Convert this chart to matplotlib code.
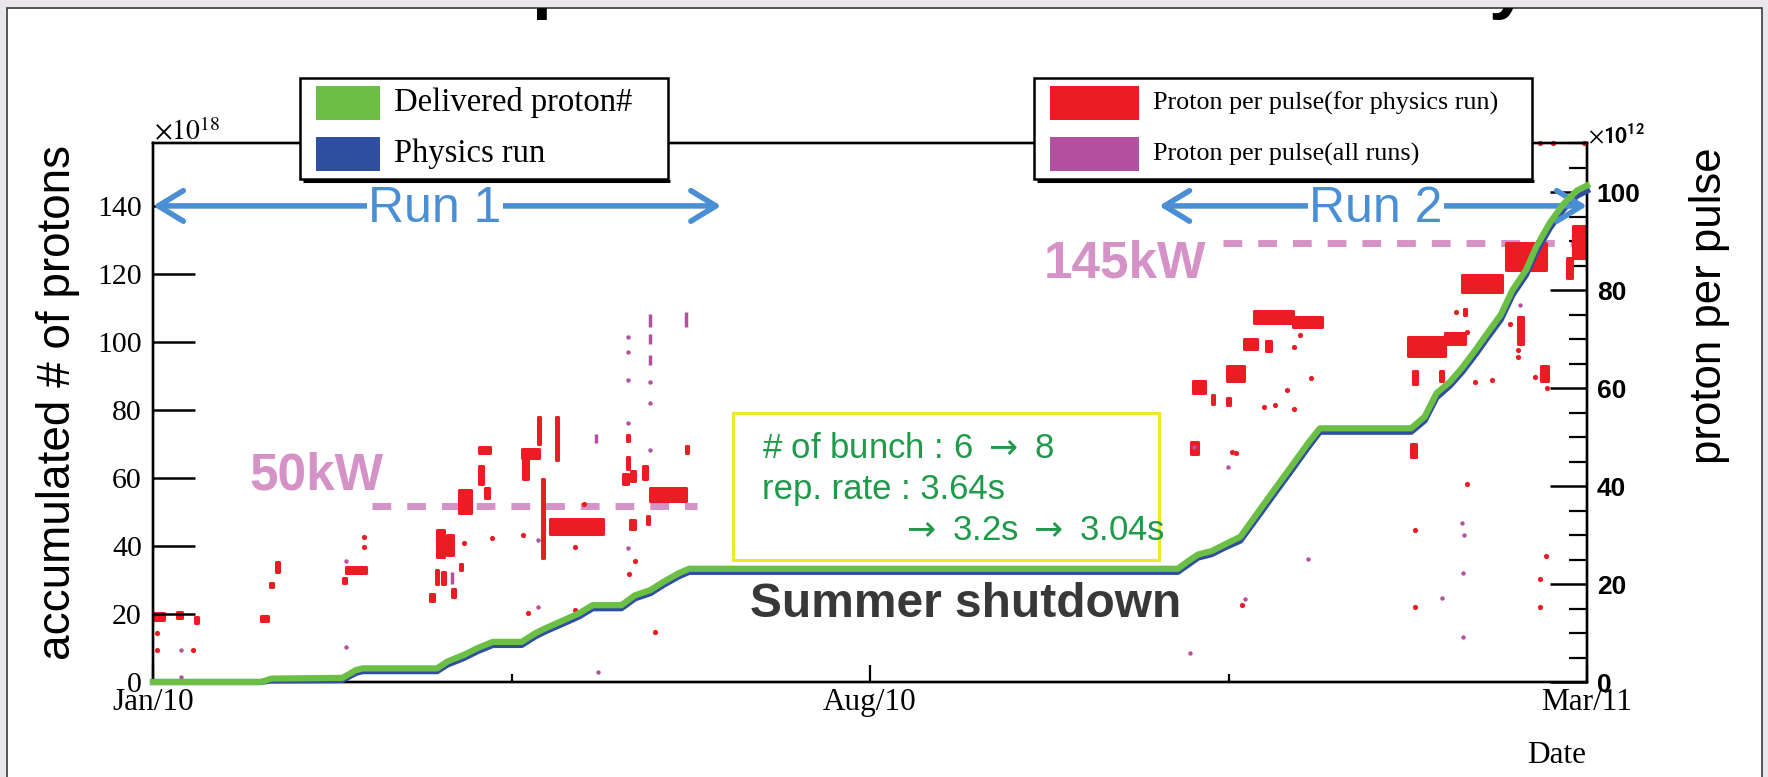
import matplotlib
matplotlib.use('Agg')
import matplotlib.pyplot as plt
from matplotlib.patches import Rectangle

plt.rcParams['font.family'] = ['Liberation Sans', 'DejaVu Sans']

# ---------------- data ----------------
# x = days since 2010-01-01 (Mar/11 = day 424)
date_ticks = [0, 212, 424]
date_labels = ['Jan/10', 'Aug/10', 'Mar/11']
date_minor = [106, 318]

# accumulated protons (x1e18)
deliv_day = [0, 32, 35, 56, 60, 62, 84, 87, 92, 96, 100.5, 109, 113, 116, 121.5, 126, 130,
             138.5, 142.5, 147, 151, 155.5, 158.5, 303, 306, 309, 313, 317, 321.5, 326.5,
             331.5, 336.5, 341.5, 345, 372, 376, 379.5, 383.5, 387, 391, 394.5, 398.5, 402,
             406, 409, 413, 417, 421, 424]
deliv_pot = [0, 0, 1.0, 1.2, 3.5, 4.0, 4.0, 6.0, 8.0, 10.0, 11.8, 11.8, 14.3, 15.8, 18.2, 20.2,
             22.6, 22.6, 25.5, 27.0, 29.5, 32.0, 33.3, 33.3, 35.5, 37.5, 38.5, 40.5, 42.7, 49.6,
             56.5, 63.3, 70.2, 74.6, 74.6, 78.0, 84.9, 88.3, 92.3, 97.6, 102.5, 108.0, 115.3,
             121.2, 128.0, 135.0, 140.5, 144.5, 146.0]
phys_pot = [0, 0, 0.5, 0.6, 2.7, 3.2, 3.2, 5.1, 7.1, 9.1, 10.9, 10.9, 13.4, 14.9, 17.3, 19.3,
            21.7, 21.7, 24.6, 26.1, 28.6, 31.1, 32.4, 32.4, 34.5, 36.6, 37.6, 39.6, 41.6, 48.4,
            55.3, 62.1, 69.0, 73.6, 73.6, 76.9, 83.7, 87.2, 91.1, 96.3, 101.2, 106.6, 113.9,
            119.8, 126.5, 133.5, 139.0, 143.0, 144.5]

# proton per pulse (x1e12), physics runs: dense groups of pulses (day range, ppp range)
red_d0 = [0.0, 7.0, 12.3, 32.0, 34.5, 36.5, 56.2, 57.0, 82.0, 84.0, 86.8, 83.6, 85.5, 88.3,
          90.8, 90.5, 96.5, 96.5, 98.3, 109.0, 109.5, 113.9, 115.0, 119.2, 117.3, 139.0, 140.2,
          140.1, 141.4, 141.0, 145.0, 146.0, 146.9, 157.7,
          307.0, 307.5, 313.2, 317.5, 317.5, 322.5, 329.0, 325.5, 337.0, 371.0, 382.0, 372.7,
          372.0, 380.5, 387.0, 387.5, 400.0, 403.5, 410.5, 418.0, 420.0]
red_d1 = [3.3, 8.5, 13.3, 34.0, 35.5, 37.3, 57.2, 63.0, 83.0, 86.0, 88.8, 84.3, 86.3, 89.3,
          91.4, 94.0, 99.5, 97.5, 99.3, 114.0, 110.8, 114.4, 115.7, 119.8, 133.0, 140.5, 140.7,
          140.6, 142.5, 142.4, 146.0, 146.8, 157.5, 158.3,
          309.0, 311.0, 313.7, 318.5, 322.5, 326.5, 330.5, 337.0, 345.5, 382.0, 388.0, 373.7,
          373.5, 381.3, 399.0, 388.2, 412.0, 405.0, 412.5, 419.5, 424.0]
red_p0 = [12.6, 13.0, 12.0, 12.5, 19.3, 22.5, 20.3, 22.3, 16.5, 25.5, 26.0, 20.0, 20.0, 17.3,
          22.8, 34.5, 46.8, 40.5, 37.5, 45.8, 41.5, 48.5, 25.3, 45.3, 30.2, 40.5, 43.5,
          49.2, 41.0, 31.3, 41.5, 32.3, 37.0, 46.8,
          46.5, 59.0, 56.8, 56.5, 61.5, 68.0, 67.5, 73.2, 72.5, 66.5, 69.0, 60.8,
          46.0, 61.5, 79.5, 74.8, 84.0, 69.0, 61.5, 82.5, 86.5]
red_p1 = [14.0, 14.2, 13.3, 13.5, 20.3, 24.5, 21.3, 23.4, 18.0, 31.0, 30.0, 22.8, 22.5, 19.0,
          24.0, 39.2, 48.0, 44.0, 39.5, 47.6, 45.5, 54.0, 41.5, 54.0, 33.2, 42.5, 46.0,
          50.5, 43.0, 33.0, 44.0, 33.8, 39.5, 48.2,
          49.0, 61.5, 58.5, 58.0, 64.5, 70.0, 69.5, 75.8, 74.5, 70.5, 71.2, 63.5,
          48.5, 63.5, 83.0, 76.2, 89.5, 74.5, 64.5, 86.5, 93.0]

# single pulses, physics runs
red_day = [1.2, 1.2, 11.8, 62.3, 62.3, 109.5, 111.0, 124.8, 124.8, 127.4, 148.5, 140.6, 142.5,
           100.3, 92.0, 328.5, 331.7, 335.4, 337.3, 337.3, 339.2, 342.4, 373.2, 388.4, 395.9,
           390.9, 388.4, 385.2, 408.5, 412.3, 403.5, 403.5, 322.0, 373.0, 412.0, 410.0, 410.0,
           319.0, 320.3, 401.3, 410.0, 414.0, 423.0]
red_ppp = [9.9, 6.5, 6.5, 29.6, 27.6, 30.0, 14.0, 27.6, 14.7, 36.4, 10.3, 22.0, 24.6,
           29.3, 28.3, 56.2, 56.5, 59.6, 55.8, 68.4, 70.8, 62.0, 31.0, 40.5, 61.6,
           61.3, 71.5, 75.6, 62.3, 59.9, 67.8, 66.4, 15.7, 15.4, 25.7, 21.0, 15.4,
           47.0, 46.8, 73.1, 110.0, 110.0, 110.0]

# single pulses, all runs
pur_day = [8.4, 8.4, 57.0, 57.0, 113.7, 113.7, 131.6, 140.4, 140.4, 140.4, 140.4, 140.4, 147.0,
           147.0, 147.0, 306.6, 323.0, 341.5, 381.0, 387.3, 387.3, 387.1, 387.7, 307.7, 317.8,
           404.1]
pur_ppp = [6.5, 1.1, 7.2, 24.6, 28.9, 15.4, 2.1, 70.5, 67.4, 61.6, 52.8, 27.3, 61.3,
           56.9, 47.3, 5.9, 17.0, 25.2, 17.1, 22.3, 9.2, 32.4, 30.0, 48.0, 43.8,
           77.0]
# short bursts, all runs
pur_seg_day = [88.4, 131.1, 147.0, 147.0, 147.0, 157.5]
pur_seg_p0 = [20.0, 48.7, 72.5, 69.0, 64.7, 72.5]
pur_seg_p1 = [22.5, 50.7, 75.2, 71.0, 66.7, 75.5]

# annotations
run1_days = [0, 168]
run2_days = [297.5, 424]
run_level = 140
kw50_days = [64.8, 160.8]
kw50_ppp = 36
kw145_days = [316.4, 424]
kw145_ppp = 89.5

# ---------------- colours ----------------
GREEN = '#6cbf45'
BLUE = '#2f4ea0'
RED = '#ec1c24'
PURPLE = '#b3509f'
PINK = '#d592c6'
ARROW = '#4a8fd4'

W, H = 1768, 777
fig = plt.figure(figsize=(W / 100, H / 100), dpi=100, facecolor='#e9e6ec')


def frac(x0, y0, x1, y1):
    return [x0 / W, 1 - y1 / H, (x1 - x0) / W, (y1 - y0) / H]


# slide panel
bg = fig.add_axes([0, 0, 1, 1], zorder=0)
bg.set_xlim(0, W)
bg.set_ylim(H, 0)
bg.axis('off')
panel = Rectangle((7, 8), 1755, 800, fc='white', ec='#3a3a3a', lw=1.2)
bg.add_patch(panel)
for ch, xp in [('p', 553), ('y', 1508)]:
    t = bg.text(xp, 5, ch, fontsize=52, fontweight='bold', ha='center', va='baseline',
                color='black', clip_on=True)
    t.set_clip_path(panel)

# main axes
ax = fig.add_axes(frac(153, 143, 1587, 682))
ax2 = ax.twinx()
ax.set_zorder(3)
ax2.set_zorder(2)
ax.patch.set_visible(False)
ax2.patch.set_visible(False)

ax.set_xlim(0, 424)
ax.set_ylim(0, 158.5)
ax2.set_ylim(0, 110)

for a in (ax, ax2):
    for s in a.spines.values():
        s.set_linewidth(1.7)

ax.set_xticks(date_ticks)
ax.set_xticklabels(date_labels)
ax.set_xticks(date_minor, minor=True)
ax.tick_params(axis='x', which='major', direction='in', length=12, width=1.6, pad=4,
               labelsize=22.5, labelfontfamily='Liberation Serif')
ax.tick_params(axis='x', which='minor', direction='in', length=6, width=1.6)
ax.set_yticks(range(0, 141, 20))
ax.tick_params(axis='y', direction='in', length=30, width=1.8, pad=8, right=False,
               labelsize=21.5, labelfontfamily='Liberation Serif')

ax2.set_yticks(range(0, 101, 20))
ax2.set_yticks([v for v in range(5, 111, 5) if v % 20], minor=True)
ax2.tick_params(axis='y', which='major', direction='in', length=27, width=1.8, pad=7,
                labelsize=19, left=False)
ax2.tick_params(axis='y', which='minor', direction='in', length=13, width=1.6, left=False)
for lab in ax2.get_yticklabels():
    lab.set_fontweight('bold')

# power lines (under the pulses)
ax2.plot(kw50_days, [kw50_ppp] * 2, color=PINK, lw=5, ls=(0, (2.7, 2.3)), zorder=1)
ax2.plot(kw145_days, [kw145_ppp] * 2, color=PINK, lw=5, ls=(0, (2.7, 2.3)), zorder=1)

# proton per pulse
heights = [b - a for a, b in zip(red_p0, red_p1)]
widths = [b - a for a, b in zip(red_d0, red_d1)]
ax2.bar(red_d0, heights, width=widths, bottom=red_p0, align='edge', color=RED,
        edgecolor=RED, lw=2.2, joinstyle='round', zorder=2)
ax2.scatter(red_day, red_ppp, s=14, color=RED, lw=0, zorder=2, clip_on=False)
ax2.scatter(pur_day, pur_ppp, s=10, color=PURPLE, lw=0, zorder=2)
ax2.vlines(pur_seg_day, pur_seg_p0, pur_seg_p1, color=PURPLE, lw=2.5, zorder=2)

# accumulated protons
ax.plot(deliv_day, phys_pot, color=BLUE, lw=4.5, zorder=3, clip_on=False)
ax.plot(deliv_day, deliv_pot, color=GREEN, lw=4.5, zorder=4, clip_on=False)

# run arrows
for d0, d1 in (run1_days, run2_days):
    ax.annotate('', xy=(d1, run_level), xytext=(d0, run_level), annotation_clip=False,
                arrowprops=dict(arrowstyle='<->,head_length=0.9,head_width=0.55', lw=4,
                                color=ARROW, shrinkA=0, shrinkB=0, mutation_scale=20))

# overlay (legends, labels, texts)
ov = fig.add_axes([0, 0, 1, 1], zorder=5)
ov.set_xlim(0, W)
ov.set_ylim(H, 0)
ov.axis('off')


def legend_box(x0, y0, x1, y1, sq_w, entries, fs):
    ov.add_patch(Rectangle((x0, y0), x1 - x0, y1 - y0, fc='white', ec='black', lw=1.8))
    ov.plot([x0 + 3, x1 + 2], [y1 + 2, y1 + 2], color='black', lw=2.2, solid_capstyle='butt')
    for i, (col, lab) in enumerate(entries):
        yc = y0 + 25 + i * 51
        ov.add_patch(Rectangle((x0 + 16, yc - 17), sq_w, 34, fc=col, ec='none'))
        ov.text(x0 + 16 + sq_w + 14, yc, lab, fontsize=fs, family='Liberation Serif',
                va='center', ha='left')


legend_box(300, 78, 668, 179, 64, [(GREEN, 'Delivered proton#'), (BLUE, 'Physics run')], 23.5)
legend_box(1034, 78, 1532, 179, 89, [(RED, 'Proton per pulse(for physics run)'),
                                     (PURPLE, 'Proton per pulse(all runs)')], 18.8)

ov.text(435, 222, 'Run 1', fontsize=36, color=ARROW, ha='center', va='baseline',
        bbox=dict(fc='white', ec='none', pad=1))
ov.text(1376, 222, 'Run 2', fontsize=36, color=ARROW, ha='center', va='baseline',
        bbox=dict(fc='white', ec='none', pad=1))

ov.text(316, 490, '50kW', fontsize=37, fontweight='bold', color=PINK, ha='center',
        va='baseline')
ov.text(1125, 277, '145kW', fontsize=37, fontweight='bold', color=PINK, ha='center',
        va='baseline')

ov.add_patch(Rectangle((733, 413), 426, 147, fc='none', ec='#f0e62c', lw=2.2))
GTXT = '#1f9a4b'
RA = r'$\;\rightarrow\;$'
ov.text(762, 458, '# of bunch : 6' + RA + '8', fontsize=25, color=GTXT, va='baseline',
        math_fontfamily='dejavusans')
ov.text(762, 499, 'rep. rate : 3.64s', fontsize=25, color=GTXT, va='baseline')
ov.text(900, 540, RA[:1] + r'\rightarrow\;$' + '3.2s' + RA + '3.04s', fontsize=25,
        color=GTXT, va='baseline', math_fontfamily='dejavusans')

ov.text(966, 617, 'Summer shutdown', fontsize=34.5, fontweight='bold', color='#383838',
        ha='center', va='baseline')

ov.text(58, 145, 'accumulated # of protons', rotation=90, fontsize=33, ha='center',
        va='top')
ov.text(1710, 147, 'proton per pulse', rotation=90, fontsize=31.5, ha='center', va='top')
ov.text(1586, 763, 'Date', fontsize=22.5, family='Liberation Serif', ha='right',
        va='baseline')
ov.text(154, 140, r'$\times10^{18}$', fontsize=20, math_fontfamily='stix', va='baseline')
ov.text(1588, 143, r'$\times\mathbf{10^{12}}$', fontsize=17, math_fontfamily='stixsans',
        va='baseline')

fig.savefig('out.png', dpi=100, facecolor=fig.get_facecolor())
